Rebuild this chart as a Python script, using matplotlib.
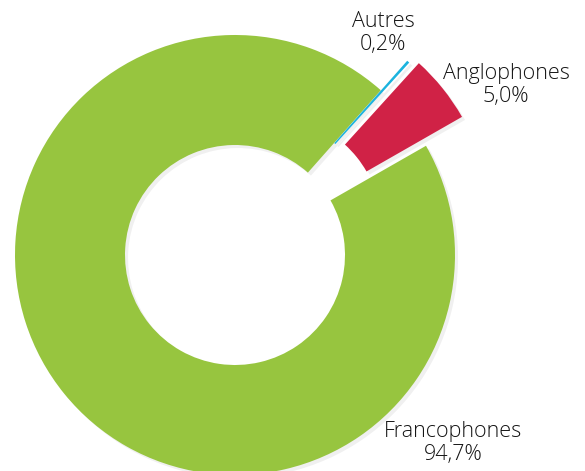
import matplotlib.pyplot as plt

# Données
categories = ['Francophones', 'Anglophones', 'Autres']
valeurs = [94.7, 5.0, 0.2]
etiquettes = ['94,7%', '5,0%', '0,2%']
couleurs = ['#97C53F', '#D02246', '#1BB3DE']
eclatement = [0.0, 0.21, 0.18]

fig = plt.figure(figsize=(5.85, 4.71), dpi=100)
ax = fig.add_axes([0, 0, 1, 1])

ax.pie(valeurs, colors=couleurs, explode=eclatement, startangle=48.5,
       counterclock=True, radius=1.0,
       wedgeprops=dict(width=0.5, linewidth=0),
       shadow=dict(ox=0.01, oy=-0.01, shade=0.0, alpha=0.06, color='black'))

# Étiquettes
positions = {'Francophones': (0.99, -0.855),
             'Anglophones': (1.232, 0.773),
             'Autres': (0.673, 1.009)}
for cat, lab in zip(categories, etiquettes):
    x, y = positions[cat]
    ax.text(x, y, f"{cat}\n{lab}", ha='center', va='center', fontsize=15.5,
            family='Open Sans', weight='light', color='#151515',
            linespacing=1.15)

# Cadre : 1 unité = 220 px, centre à (235, 255) px
ax.set_xlim(-235 / 220, 350 / 220)
ax.set_ylim(-216 / 220, 255 / 220)
ax.set_aspect('equal')
ax.axis('off')

fig.savefig('out.png', dpi=100)
